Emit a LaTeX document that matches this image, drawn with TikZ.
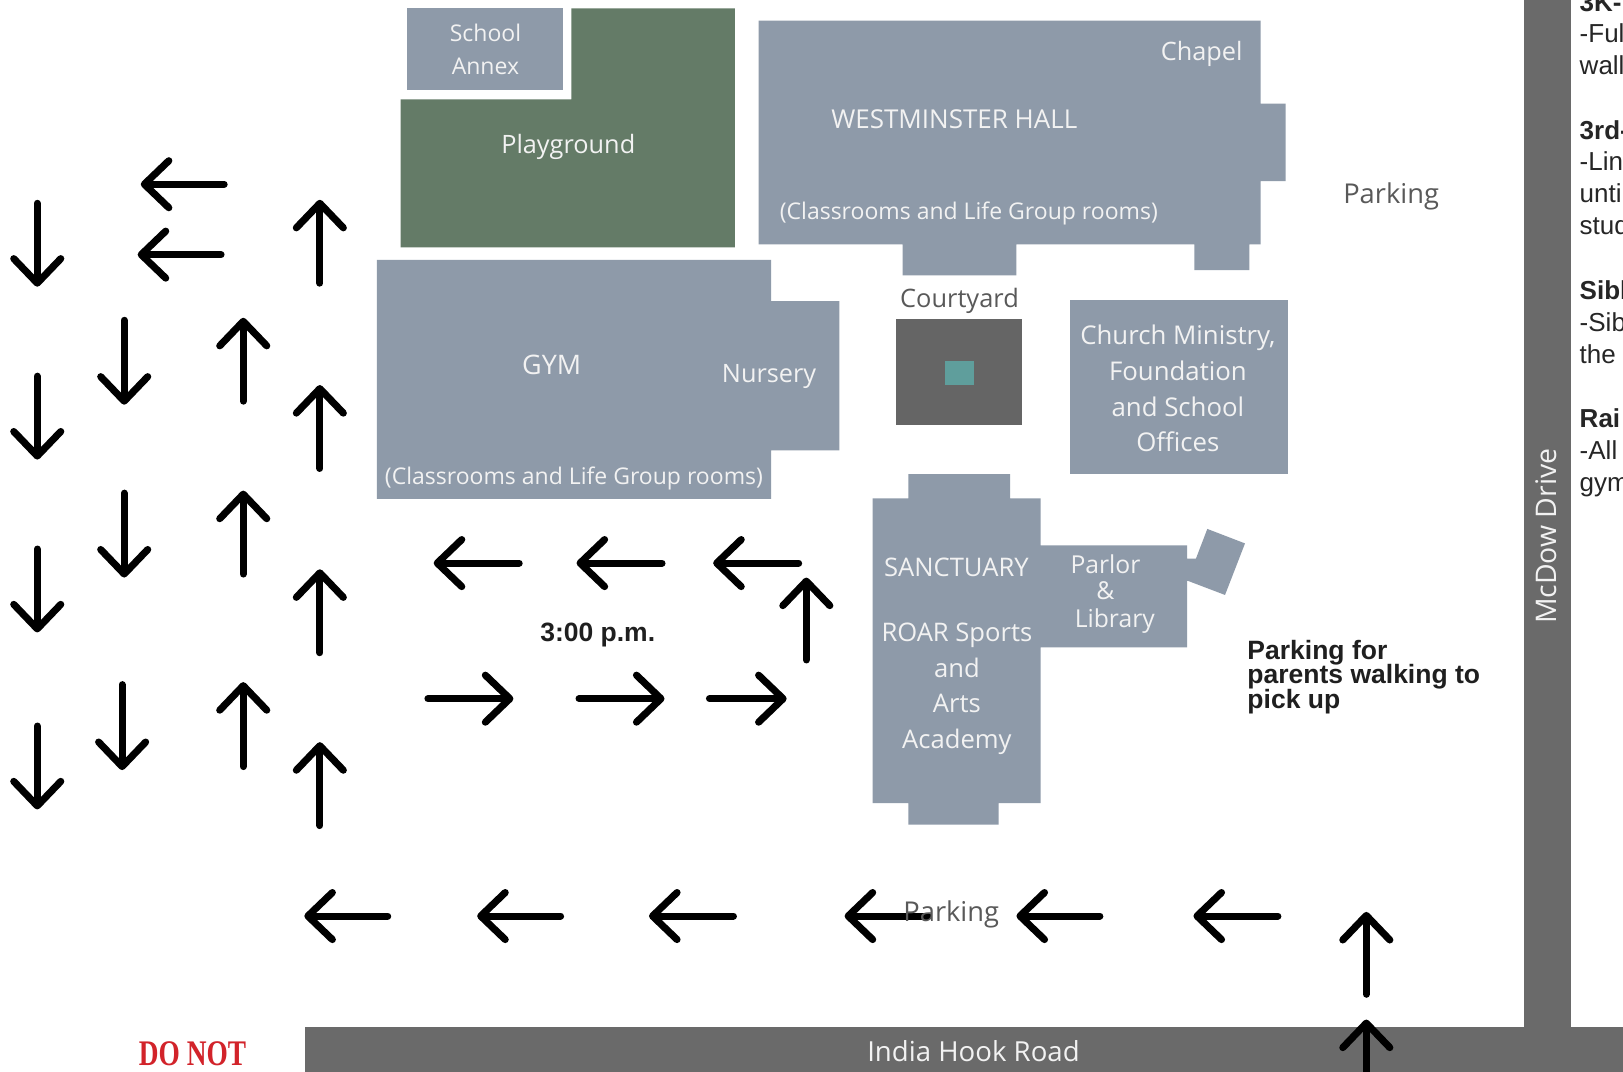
\documentclass[tikz,border=0pt]{standalone}
\usepackage{fontspec}
\setmainfont{Open Sans}
\newfontfamily\arialf{Liberation Sans}
\newfontfamily\timesf{Liberation Serif}
\usetikzlibrary{arrows.meta}
\setlength{\lineskiplimit}{-100pt}
\definecolor{bldg}{HTML}{8E9AA9}
\definecolor{green1}{HTML}{647B67}
\definecolor{road}{HTML}{6A6A6A}
\definecolor{tealbox}{HTML}{5F9E9C}
\definecolor{donot}{HTML}{D2232A}
\tikzset{
  bldgfill/.style={fill=bldg,draw=none},
  wlabel/.style={text=white!95!black,font=\fontsize{25.3}{35.6}\selectfont,align=center,inner sep=0pt},
  dlabel/.style={text=black!65,font=\fontsize{25.4}{34.5}\selectfont,align=center,inner sep=0pt},
  smallw/.style={text=white!95!black,font=\fontsize{23}{30}\selectfont,inner sep=0pt},
  blab/.style={text=black!88,font=\arialf\bfseries\fontsize{26.5}{24.3}\selectfont,align=left,inner sep=0pt},
  sidetext/.style={text=black!85,font=\arialf\fontsize{26}{32}\selectfont,anchor=base west,inner sep=0pt},
  sidebold/.style={sidetext,font=\arialf\bfseries\fontsize{26}{32}\selectfont},
  arw/.style={line width=7.1pt,line cap=round,line join=round,black,shorten <=1.5pt,
    -{Straight Barb[length=24.5pt,width=47pt,round]}},
}
\newcommand{\arw}[2]{\draw[arw] #1 -- #2;}
\begin{document}
\begin{tikzpicture}[x=1.0351pt,y=-1.0351pt]
\path[use as bounding box,clip] (0,0) rectangle (1568,1035.66);
\fill[white] (0,0) rectangle (1568,1035.66);
% roads
\fill[road] (1472,0) rectangle (1518,992);
\fill[road] (295,992) rectangle (1568,1036);
% buildings
\fill[bldgfill] (393,8) rectangle (544,87);
\fill[green1] (552,8) -- (710,8) -- (710,239) -- (387,239) -- (387,96) -- (552,96) -- cycle;
\fill[bldgfill] (733,20) -- (1218,20) -- (1218,100) -- (1242,100) -- (1242,175) -- (1218,175) -- (1218,236) -- (1207,236) -- (1207,261) -- (1154,261) -- (1154,236) -- (982,236) -- (982,266) -- (872,266) -- (872,236) -- (733,236) -- cycle;
\fill[bldgfill] (364,251) -- (745,251) -- (745,291) -- (811,291) -- (811,435) -- (745,435) -- (745,482) -- (364,482) -- cycle;
\fill[road!95!black] (866,308) rectangle (987,411);
\fill[tealbox] (913,349) rectangle (941,372);
\fill[bldgfill] (1034,290) rectangle (1244,458);
\fill[bldgfill] (843,481.5) -- (877.5,481.5) -- (877.5,458) -- (975.8,458) -- (975.8,481.5) -- (1005.4,481.5) -- (1005.4,527) -- (1147,527) -- (1147,539.7) -- (1155.4,539.7) -- (1166.4,511) -- (1202.8,525) -- (1183.5,574.8) -- (1148,561.3) -- (1147,561.3) -- (1147,625.4) -- (1005.4,625.4) -- (1005.4,775.8) -- (964.8,775.8) -- (964.8,796.7) -- (877.5,796.7) -- (877.5,775.8) -- (843,775.8) -- cycle;
% arrows
\arw{(36,195)}{(36,277)} \arw{(36,362)}{(36,444)} \arw{(36,529)}{(36,611)} \arw{(36,700)}{(36,782)}
\arw{(120,308)}{(120,391)} \arw{(120,475)}{(120,558)} \arw{(118,660)}{(118,744)}
\arw{(235,389)}{(235,307)} \arw{(235,556)}{(235,474)} \arw{(235,742)}{(235,659)}
\arw{(309,275)}{(309,193)} \arw{(309,454)}{(309,372)} \arw{(309,632)}{(309,550)} \arw{(309,799)}{(309,717)}
\arw{(218,178)}{(136,178)} \arw{(215,246)}{(133,246)}
\arw{(503,544)}{(419,544)} \arw{(641,544)}{(557,544)} \arw{(773,544)}{(689,544)}
\arw{(779,639)}{(779,558)}
\arw{(412,675)}{(496,675)} \arw{(558,675)}{(642,675)} \arw{(684,675)}{(760,675)}
\arw{(376,885)}{(294,885)} \arw{(543,885)}{(461,885)} \arw{(710,885)}{(627,885)} \arw{(898,885)}{(816,885)} \arw{(1064,885)}{(982,885)} \arw{(1236,885)}{(1153,885)}
\arw{(1320,962)}{(1320,881)} \arw{(1320,1060)}{(1320,985)}
% labels
\node[wlabel,font=\fontsize{23}{33}\selectfont] (annex) at (469,48) {School\\Annex};
\node[wlabel] (play) at (549,142) {Playground};
\node[wlabel,font=\fontsize{26}{34}\selectfont] (west) at (922,115.5) {WESTMINSTER HALL};
\node[wlabel] (chapel) at (1161,52) {Chapel};
\node[smallw] (westcl) at (936,206) {(Classrooms and Life Group rooms)};
\node[wlabel,font=\fontsize{26.9}{34}\selectfont] (gym) at (533,353) {GYM};
\node[wlabel] (nursery) at (743,364) {Nursery};
\node[smallw] (gymcl) at (554.5,462.5) {(Classrooms and Life Group rooms)};
\node[dlabel] (court) at (927,291) {Courtyard};
\node[wlabel,font=\fontsize{25.8}{35.6}\selectfont] (church) at (1138,375.5) {Church Ministry,\\Foundation\\and School\\Offices};
\node[wlabel,font=\fontsize{25.6}{34}\selectfont] (sanct) at (924,548.5) {SANCTUARY};
\node[wlabel,font=\fontsize{25.6}{35.8}\selectfont] (roar) at (924.5,665.5) {ROAR Sports\\and\\Arts\\Academy};
\node[wlabel,font=\fontsize{24.7}{34}\selectfont] (parlor) at (1068,545.5) {Parlor};
\node[wlabel,font=\fontsize{24.7}{34}\selectfont] (amp) at (1068,571) {\&};
\node[wlabel,font=\fontsize{24.7}{34}\selectfont] (library) at (1077,600) {Library};
\node[dlabel,font=\fontsize{27.3}{34}\selectfont] (park1) at (1344,190) {Parking};
\node[dlabel,font=\fontsize{27.3}{34}\selectfont] (park2) at (919,883) {Parking};
\node[blab] (time) at (577.5,613) {3:00 p.m.};
\node[blab,anchor=west] (walk) at (1205,654) {Parking for\\parents walking to\\pick up};
\node[wlabel,font=\fontsize{27.6}{34}\selectfont] (india) at (940.5,1015.5) {India Hook Road};
\node[wlabel,rotate=90,font=\fontsize{28.4}{34}\selectfont] (mcdow) at (1494,518) {McDow Drive};
\node[text=donot,font=\timesf\bfseries\fontsize{36}{36}\selectfont,xscale=.76,inner sep=0pt] (donot) at (186,1018) {DO NOT};
% side text
\node[sidebold] (s1) at (1526,11) {3K-};
\node[sidetext] (s2) at (1526,41) {-Ful};
\node[sidetext] (s3) at (1526,72) {wall};
\node[sidebold] (s4) at (1526,135) {3rd-};
\node[sidetext] (s5) at (1526,165) {-Lin};
\node[sidetext] (s6) at (1526,196) {unti};
\node[sidetext] (s7) at (1526,227) {stud};
\node[sidebold] (s8) at (1526,289) {Sibl};
\node[sidetext] (s9) at (1526,320) {-Sib};
\node[sidetext] (s10) at (1526,351) {the};
\node[sidebold] (s11) at (1526,413) {Rai};
\node[sidetext] (s12) at (1526,444) {-All};
\node[sidetext] (s13) at (1526,475) {gym};
\end{tikzpicture}
\end{document}
